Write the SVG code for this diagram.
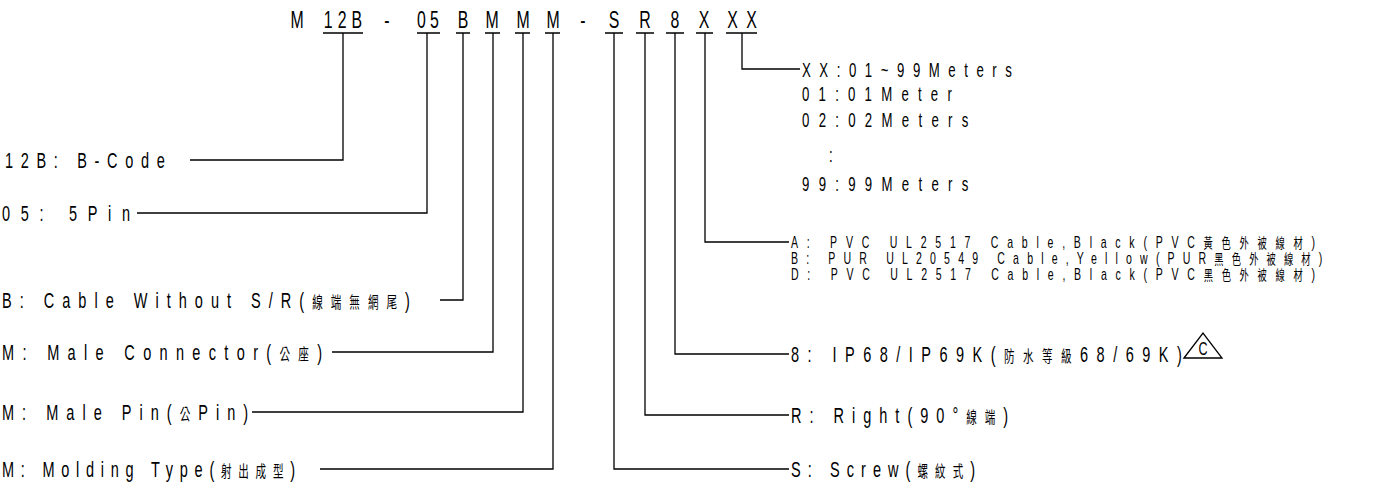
<svg xmlns="http://www.w3.org/2000/svg" width="1382" height="492" viewBox="0 0 1382 492">
<style>
text{font-family:"Liberation Sans","Noto Sans CJK TC",sans-serif;fill:#000;}
.top{font-size:24px;text-anchor:middle;}
.lab{font-size:22px;}
.sm{font-size:20px;}
.cab{font-size:16px;}
.cjk{font-size:16px;}
.cjk2{font-size:14px;}
.ln{stroke:#000;stroke-width:1.3;fill:none;}
</style>
<rect width="1382" height="492" fill="#fff"/>
<g id="code">
<text class="top" transform="translate(297,28) scale(0.66,1)">M</text>
<text class="top" transform="translate(343,28) scale(0.66,1)" textLength="58" lengthAdjust="spacing">12B</text>
<text class="top" transform="translate(387,28) scale(0.66,1)">-</text>
<text class="top" transform="translate(428,28) scale(0.66,1)" textLength="33" lengthAdjust="spacing">05</text>
<text class="top" transform="translate(463,28) scale(0.66,1)">B</text>
<text class="top" transform="translate(492,28) scale(0.66,1)">M</text>
<text class="top" transform="translate(523,28) scale(0.66,1)">M</text>
<text class="top" transform="translate(553,28) scale(0.66,1)">M</text>
<text class="top" transform="translate(583,28) scale(0.66,1)">-</text>
<text class="top" transform="translate(614,28) scale(0.66,1)">S</text>
<text class="top" transform="translate(645,28) scale(0.66,1)">R</text>
<text class="top" transform="translate(675,28) scale(0.66,1)">8</text>
<text class="top" transform="translate(704,28) scale(0.66,1)">X</text>
<text class="top" transform="translate(742,28) scale(0.66,1)" textLength="45" lengthAdjust="spacing">XX</text>
</g>
<g id="connectors" class="ln">
<path d="M323 33H363M343 33V160H190"/>
<path d="M417 33H440M427 33V213H137"/>
<path d="M456 33H470M463 33V300H440"/>
<path d="M485 33H500M493 33V352H332"/>
<path d="M515 33H530M523 33V412H252"/>
<path d="M545 33H560M553 33V469H320"/>
<path d="M605 33H623M614 33V469H789"/>
<path d="M636 33H654M645 33V415H789"/>
<path d="M666 33H684M675 33V354H789"/>
<path d="M696 33H713M705 33V242H789"/>
<path d="M726 33H757M742 33V69H800"/>
</g>
<g id="n-12b"><text class="lab" transform="translate(5,168) scale(0.66,1)" textLength="242" lengthAdjust="spacing">12B: B-Code</text></g>
<g id="n-05"><text class="lab" transform="translate(2,221) scale(0.66,1)" textLength="194" lengthAdjust="spacing">05: 5Pin</text></g>
<g id="n-b"><text class="lab" transform="translate(2,308) scale(0.66,1)" textLength="618" lengthAdjust="spacing">B: Cable Without S/R(<tspan class="cjk">線端無網尾</tspan>)</text></g>
<g id="n-mc"><text class="lab" transform="translate(2,360) scale(0.66,1)" textLength="485" lengthAdjust="spacing">M: Male Connector(<tspan class="cjk">公座</tspan>)</text></g>
<g id="n-mp"><text class="lab" transform="translate(2,420) scale(0.66,1)" textLength="373" lengthAdjust="spacing">M: Male Pin(<tspan class="cjk">公</tspan>Pin)</text></g>
<g id="n-mm"><text class="lab" transform="translate(2,477) scale(0.66,1)" textLength="444" lengthAdjust="spacing">M: Molding Type(<tspan class="cjk">射出成型</tspan>)</text></g>
<g id="n-xx">
<text class="sm" transform="translate(802,77) scale(0.66,1)" textLength="318" lengthAdjust="spacing">XX:01~99Meters</text>
<text class="sm" transform="translate(802,101) scale(0.66,1)" textLength="227" lengthAdjust="spacing">01:01Meter</text>
<text class="sm" transform="translate(802,127) scale(0.66,1)" textLength="252" lengthAdjust="spacing">02:02Meters</text>
<text class="sm" transform="translate(829,162) scale(0.66,1)">:</text>
<text class="sm" transform="translate(802,191) scale(0.66,1)" textLength="252" lengthAdjust="spacing">99:99Meters</text>
</g>
<g id="n-cable">
<text class="cab" transform="translate(791,248) scale(0.66,1)" textLength="794" lengthAdjust="spacing">A: PVC UL2517 Cable,Black(PVC<tspan class="cjk2">黃色外被線材</tspan>)</text>
<text class="cab" transform="translate(791,264) scale(0.66,1)" textLength="805" lengthAdjust="spacing">B: PUR UL20549 Cable,Yellow(PUR<tspan class="cjk2">黑色外被線材</tspan>)</text>
<text class="cab" transform="translate(791,280) scale(0.66,1)" textLength="794" lengthAdjust="spacing">D: PVC UL2517 Cable,Black(PVC<tspan class="cjk2">黑色外被線材</tspan>)</text>
</g>
<g id="n-8">
<text class="lab" transform="translate(791,362) scale(0.66,1)" textLength="592" lengthAdjust="spacing">8: IP68/IP69K(<tspan class="cjk">防水等級</tspan>68/69K)</text>
<polygon class="ln" points="1184,358 1203,333 1222,358"/>
<text transform="translate(1203,355) scale(0.66,1)" font-size="19" text-anchor="middle">C</text>
</g>
<g id="n-r"><text class="lab" transform="translate(791,423) scale(0.66,1)" textLength="329" lengthAdjust="spacing">R: Right(90°<tspan class="cjk">線端</tspan>)</text></g>
<g id="n-s"><text class="lab" transform="translate(791,477) scale(0.66,1)" textLength="279" lengthAdjust="spacing">S: Screw(<tspan class="cjk">螺紋式</tspan>)</text></g>
</svg>
